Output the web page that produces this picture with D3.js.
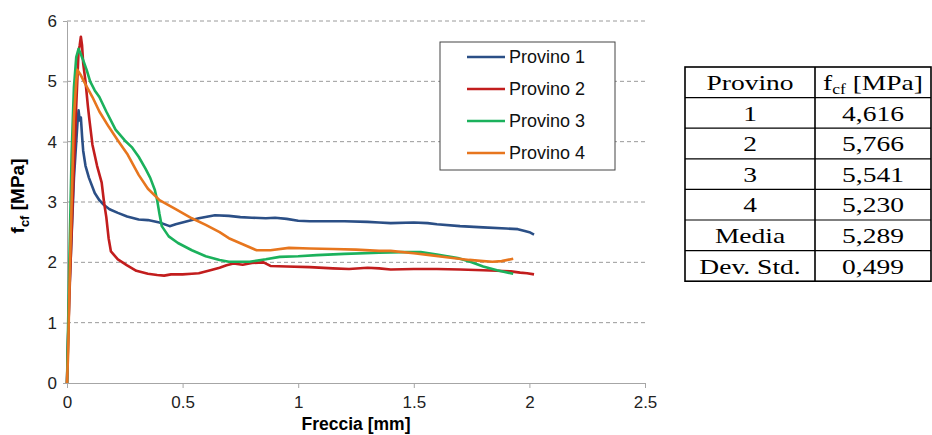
<!DOCTYPE html>
<html>
<head>
<meta charset="utf-8">
<script src="https://cdn.jsdelivr.net/npm/d3@7"></script>
<style>
  body { margin: 0; background: #fff; }
  svg { font-family: Arial, "Liberation Sans", sans-serif; }
</style>
</head>
<body>
<div class="canvas"></div>
<script>
// data: [freccia mm, fcf MPa]
const provino1 = [[0,0],[0.01,1.5],[0.03,3.4],[0.045,4.3],[0.05,4.52],[0.055,4.35],[0.06,4.4],[0.065,4.1],[0.07,3.85],[0.08,3.6],[0.095,3.4],[0.12,3.15],[0.14,3.03],[0.16,2.95],[0.184,2.88],[0.22,2.82],[0.26,2.76],[0.31,2.71],[0.35,2.7],[0.4,2.66],[0.444,2.6],[0.47,2.63],[0.52,2.68],[0.57,2.73],[0.64,2.78],[0.7,2.77],[0.75,2.75],[0.8,2.74],[0.86,2.73],[0.9,2.74],[0.95,2.72],[1.0,2.69],[1.05,2.68],[1.1,2.68],[1.2,2.68],[1.3,2.67],[1.35,2.66],[1.4,2.65],[1.5,2.66],[1.56,2.65],[1.6,2.63],[1.7,2.6],[1.8,2.58],[1.9,2.56],[1.95,2.55],[1.98,2.52],[2.0,2.5],[2.02,2.46]];
const provino2 = [[0,0],[0.005,0.8],[0.01,1.4],[0.02,2.5],[0.03,3.6],[0.04,4.6],[0.05,5.5],[0.055,5.6],[0.06,5.74],[0.065,5.6],[0.07,5.3],[0.08,5.0],[0.09,4.6],[0.097,4.36],[0.11,3.95],[0.13,3.6],[0.15,3.32],[0.16,3.0],[0.17,2.75],[0.18,2.4],[0.19,2.18],[0.22,2.05],[0.26,1.95],[0.3,1.86],[0.35,1.81],[0.39,1.79],[0.42,1.78],[0.45,1.8],[0.5,1.8],[0.54,1.81],[0.57,1.82],[0.62,1.87],[0.66,1.91],[0.69,1.95],[0.72,1.98],[0.76,1.96],[0.8,1.99],[0.85,2.0],[0.88,1.94],[0.95,1.93],[1.05,1.92],[1.15,1.9],[1.22,1.89],[1.3,1.91],[1.35,1.9],[1.4,1.88],[1.5,1.89],[1.6,1.89],[1.7,1.88],[1.8,1.87],[1.86,1.86],[1.92,1.85],[1.96,1.83],[1.99,1.82],[2.02,1.8]];
const provino3 = [[0,0],[0.005,1.0],[0.01,2.0],[0.02,3.8],[0.03,4.9],[0.04,5.4],[0.05,5.54],[0.06,5.45],[0.07,5.35],[0.085,5.19],[0.1,5.0],[0.12,4.85],[0.14,4.74],[0.17,4.5],[0.21,4.2],[0.25,4.02],[0.28,3.91],[0.31,3.75],[0.34,3.55],[0.36,3.4],[0.38,3.2],[0.39,3.03],[0.40,2.8],[0.41,2.6],[0.44,2.43],[0.48,2.32],[0.54,2.2],[0.6,2.1],[0.66,2.04],[0.70,2.01],[0.79,2.01],[0.86,2.05],[0.92,2.09],[1.0,2.1],[1.08,2.12],[1.2,2.14],[1.35,2.16],[1.45,2.17],[1.53,2.17],[1.6,2.13],[1.69,2.07],[1.75,2.0],[1.8,1.93],[1.86,1.87],[1.93,1.81]];
const provino4 = [[0,0],[0.005,0.5],[0.01,1.5],[0.02,3.0],[0.03,4.4],[0.04,5.0],[0.045,5.19],[0.06,5.1],[0.08,4.95],[0.11,4.74],[0.14,4.5],[0.18,4.25],[0.22,4.02],[0.26,3.8],[0.31,3.45],[0.35,3.22],[0.40,3.03],[0.47,2.88],[0.54,2.73],[0.6,2.62],[0.66,2.5],[0.70,2.4],[0.76,2.3],[0.82,2.2],[0.88,2.2],[0.96,2.24],[1.05,2.23],[1.15,2.22],[1.25,2.21],[1.35,2.19],[1.4,2.19],[1.5,2.15],[1.57,2.12],[1.65,2.08],[1.74,2.04],[1.8,2.02],[1.84,2.01],[1.88,2.02],[1.93,2.06]];

const seriesNames = ['Provino 1', 'Provino 2', 'Provino 3', 'Provino 4'];
const seriesColors = ['#2b4f86', '#c21d1d', '#1bb15c', '#e7761e'];
const xTicks = [0, 0.5, 1, 1.5, 2, 2.5];
const yTicks = [0, 1, 2, 3, 4, 5, 6];

// table on the right
const tableRows = ['1', '2', '3', '4', 'Media', 'Dev. Std.'];
const tableValues = ['4,616', '5,766', '5,541', '5,230', '5,289', '0,499'];

const margin = { top: 21, right: 287, bottom: 52, left: 67 };
const graphWidth = 932 - margin.left - margin.right;
const graphHeight = 435 - margin.top - margin.bottom;

const svg = d3.select('.canvas')
  .append('svg')
   .attr('width', 932)
   .attr('height', 435);

const graph = svg.append('g')
  .attr('transform', `translate(${margin.left}, ${margin.top})`);

const x = d3.scaleLinear().domain([0, 2.5]).range([0, graphWidth]);
const y = d3.scaleLinear().domain([0, 6]).range([graphHeight, 0]);

// dashed gridlines
graph.selectAll('line.grid')
  .data(yTicks.filter(d => d > 0))
  .enter().append('line')
   .attr('class', 'grid')
   .attr('x1', 0).attr('x2', graphWidth)
   .attr('y1', d => y(d)).attr('y2', d => y(d))
   .attr('stroke', '#9a9a9a')
   .attr('stroke-dasharray', '4,3')
   .attr('stroke-width', 1);

// axes
const xAxisGroup = graph.append('g').attr('transform', `translate(0, ${graphHeight})`);
const yAxisGroup = graph.append('g');

xAxisGroup.call(d3.axisBottom(x).tickValues(xTicks).tickSize(5).tickSizeOuter(0).tickFormat(d => d));
yAxisGroup.call(d3.axisLeft(y).tickValues(yTicks).tickSize(4).tickSizeOuter(0).tickFormat(d => d));

[xAxisGroup, yAxisGroup].forEach(g => {
  g.select('.domain').attr('stroke', '#a6a6a6');
  g.selectAll('.tick line').attr('stroke', '#a6a6a6');
  g.selectAll('text')
   .style('font-size', '17px')
   .style('font-family', 'Arial, "Liberation Sans", sans-serif')
   .attr('fill', '#222');
});
xAxisGroup.selectAll('text').attr('dy', '1.0em');
yAxisGroup.selectAll('text').attr('x', -10);

// lines
const line = d3.line().x(d => x(d[0])).y(d => y(d[1]));
const allSeries = [provino1, provino2, provino3, provino4];
graph.selectAll('path.serie')
  .data(allSeries)
  .enter().append('path')
   .attr('class', 'serie')
   .attr('d', line)
   .attr('fill', 'none')
   .attr('stroke', (d, i) => seriesColors[i])
   .attr('stroke-width', 2.6)
   .attr('stroke-linejoin', 'round');

// axis titles
svg.append('text')
  .attr('x', 356).attr('y', 430)
  .attr('text-anchor', 'middle')
  .style('font-size', '17.5px').style('font-weight', 'bold')
  .text('Freccia [mm]');

const yTitle = svg.append('text')
  .attr('transform', 'translate(24, 196) rotate(-90)')
  .attr('text-anchor', 'middle')
  .style('font-size', '19px').style('font-weight', 'bold');
yTitle.append('tspan').text('f');
yTitle.append('tspan').attr('dy', 5).style('font-size', '13px').text('cf');
yTitle.append('tspan').attr('dy', -5).text(' [MPa]');

// legend
const legend = svg.append('g').attr('transform', 'translate(440, 42)');
legend.append('rect')
  .attr('width', 175).attr('height', 128)
  .attr('fill', '#fff').attr('stroke', '#444').attr('stroke-width', 1);
const items = legend.selectAll('g.item')
  .data(seriesNames)
  .enter().append('g')
   .attr('transform', (d, i) => `translate(0, ${15 + i * 32})`);
items.append('line')
  .attr('x1', 27).attr('x2', 65)
  .attr('stroke', (d, i) => seriesColors[i])
  .attr('stroke-width', 2.6);
items.append('text')
  .attr('x', 69).attr('dy', '0.35em')
  .style('font-size', '18px').attr('fill', '#111')
  .text(d => d);

// table (text is drawn a bit stretched, like in the source picture)
const tbl = svg.append('g')
  .attr('transform', 'translate(685, 67)')
  .style('font-family', '"Liberation Serif", "Times New Roman", serif')
  .style('font-size', '22px');
const colX = [0, 130, 246];
const rowH = 30.6;
const nRows = tableRows.length + 1;
const stretch = 1.25;

tbl.append('rect')
  .attr('width', colX[2]).attr('height', rowH * nRows)
  .attr('fill', 'none').attr('stroke', '#000').attr('stroke-width', 1.6);
tbl.append('line')
  .attr('x1', colX[1]).attr('x2', colX[1])
  .attr('y1', 0).attr('y2', rowH * nRows)
  .attr('stroke', '#000').attr('stroke-width', 1.6);
tbl.selectAll('line.row')
  .data(d3.range(1, nRows))
  .enter().append('line')
   .attr('class', 'row')
   .attr('x1', 0).attr('x2', colX[2])
   .attr('y1', d => d * rowH).attr('y2', d => d * rowH)
   .attr('stroke', '#000').attr('stroke-width', 1.2);

const cell = (cx, cy) => tbl.append('text')
  .attr('transform', `translate(${cx}, ${cy}) scale(${stretch}, 1)`)
  .attr('dy', '0.35em')
  .attr('text-anchor', 'middle');

cell(colX[1] / 2, rowH / 2).text('Provino');
const head = cell((colX[1] + colX[2]) / 2, rowH / 2);
head.append('tspan').text('f');
head.append('tspan').attr('dy', 4).style('font-size', '14px').text('cf');
head.append('tspan').attr('dy', -4).text(' [MPa]');

tableRows.forEach((d, i) => cell(colX[1] / 2, (i + 1.5) * rowH).text(d));
tableValues.forEach((d, i) => cell((colX[1] + colX[2]) / 2, (i + 1.5) * rowH).text(d));
</script>
</body>
</html>
